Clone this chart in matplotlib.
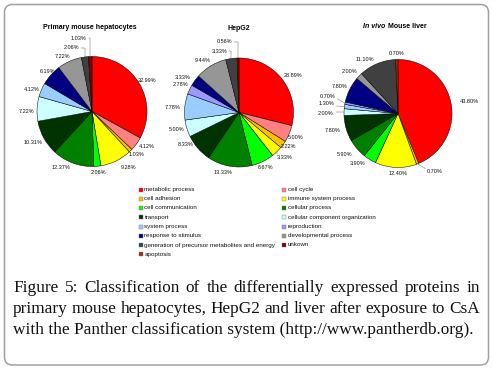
import matplotlib
matplotlib.use("Agg")
import matplotlib.pyplot as plt
import numpy as np
from matplotlib.patches import FancyBboxPatch, Rectangle

# ---------------- data ----------------
categories = ["metabolic process", "cell cycle", "cell adhesion", "immune system process",
              "cell communication", "cellular process", "transport",
              "cellular component organization", "system process", "reproduction",
              "response to stimulus", "developmental process",
              "generation of precursor metabolites and energy", "unkown", "apoptosis"]

hepatocytes = [32.99, 4.12, 1.03, 9.28, 2.06, 12.37, 10.31, 7.22, 4.12, 0, 6.19, 7.22, 2.06, 1.03, 0]
hepg2 = [28.89, 5.00, 2.22, 3.33, 6.67, 13.33, 8.33, 5.00, 7.78, 2.78, 3.33, 9.44, 3.33, 0.56, 0]
liver = [43.80, 0, 0.70, 12.40, 3.90, 5.90, 7.80, 2.00, 1.30, 0.70, 7.80, 2.00, 11.10, 0, 0.70]

caption_lines = ["Figure 5: Classification of the differentially expressed proteins in",
                 "primary mouse hepatocytes, HepG2 and liver after exposure to CsA",
                 "with the Panther classification system (http://www.pantherdb.org)."]

# ---------------- styles ----------------
colors = ["#FF0000", "#FF8080", "#FFC000", "#FFFF00", "#00FF00", "#008000", "#003300",
          "#CCFFFF", "#99CCFF", "#9999FF", "#000080", "#969696", "#404040", "#800000", "#993300"]

W, H, DPI = 493, 369, 100
fig = plt.figure(figsize=(W / DPI, H / DPI), dpi=DPI)
fig.patch.set_facecolor("white")

SANS = ["Liberation Sans", "DejaVu Sans"]
SERIF = ["Liberation Serif", "DejaVu Serif"]

# layout: pie centre (px), radius (px), label positions in units of radius, leader lines
layouts = [
    dict(cx=92, cy=111.5, r=55,
         labels=[(1.00, 0.555), (1.00, -0.645), (0.818, -0.773), (0.673, -1.027), (0.127, -1.118),
                 (-0.564, -1.027), (-1.073, -0.555), (-1.182, 0.009), (-1.091, 0.409),
                 (-0.80, 0.736), (-0.527, 0.991), (-0.364, 1.155), (-0.236, 1.336)],
         leaders={1: "s", 2: "s", 11: "e", 12: "e"}),
    dict(cx=239, cy=112.5, r=54.5,
         labels=[(0.991, 0.688), (1.046, -0.450), (0.899, -0.633), (0.844, -0.817), (0.495, -1.018),
                 (-0.294, -1.110), (-0.972, -0.578), (-1.138, -0.321), (-1.211, 0.083),
                 (-1.064, 0.505), (-1.028, 0.651), (-0.661, 0.945), (-0.349, 1.128), (-0.257, 1.294)],
         leaders={2: "s", 3: "s", 12: "e", 13: "e"}),
    dict(cx=398, cy=113.5, r=54,
         labels=[(1.315, 0.213), (0.685, -1.074), (0.0, -1.102), (-0.741, -0.935), (-0.981, -0.75),
                 (-1.204, -0.324), (-1.333, 0.009), (-1.315, 0.194), (-1.296, 0.324),
                 (-1.074, 0.491), (-0.889, 0.787), (-0.611, 0.991), (-0.019, 1.12)],
         leaders={1: "s", 6: "s", 7: "s", 8: "s"}),
]

series = [hepatocytes, hepg2, liver]

for vals, lay in zip(series, layouts):
    cx, cy, r = lay["cx"], lay["cy"], lay["r"]
    s = 1.5 * r
    ax = fig.add_axes([(cx - s) / W, 1 - (cy + s) / H, 2 * s / W, 2 * s / H])
    idx = [i for i, v in enumerate(vals) if v > 0]
    v = [vals[i] for i in idx]
    c = [colors[i] for i in idx]
    wedges, _ = ax.pie(v, colors=c, startangle=90, counterclock=False, radius=1,
                       wedgeprops=dict(edgecolor="black", linewidth=0.35))
    ax.set_xlim(-1.5, 1.5)
    ax.set_ylim(-1.5, 1.5)
    ax.axis("off")
    hw, hh = 9.5 / r, 3.0 / r
    for k, (w, val) in enumerate(zip(wedges, v)):
        lx, ly = lay["labels"][k]
        ax.text(lx, ly, f"{val:.2f}%", ha="center", va="center", fontsize=4.0,
                family=SANS, color="#111111", clip_on=False)
        if k in lay["leaders"]:
            th = np.deg2rad((w.theta1 + w.theta2) / 2)
            wx, wy = np.cos(th), np.sin(th)
            if lay["leaders"][k] == "e":
                ex = lx + hw
                xs, ys = [ex, wx, wx], [ly, ly, wy]
            else:
                px = min(max(wx, lx - hw), lx + hw)
                py = min(max(wy, ly - hh), ly + hh)
                xs, ys = [px, wx], [py, wy]
            ax.plot(xs, ys, color="#555555", lw=0.3, clip_on=False)

def fx(x):
    return x / W

def fy(y):
    return 1 - y / H

# titles
fig.text(fx(89.5), fy(27.5), "Primary mouse hepatocytes", ha="center", va="center",
         fontsize=5, fontweight="bold", family=SANS)
fig.text(fx(239), fy(28), "HepG2", ha="center", va="center",
         fontsize=5, fontweight="bold", family=SANS)
fig.text(fx(385), fy(27), "In vivo", ha="right", va="center",
         fontsize=5, fontweight="bold", style="italic", family=SANS)
fig.text(fx(388), fy(27), "Mouse liver", ha="left", va="center",
         fontsize=5, fontweight="bold", family=SANS)

# legend (two columns, row-major)
for i, (cat, col) in enumerate(zip(categories, colors)):
    row, colno = divmod(i, 2)
    x0 = 139 if colno == 0 else 282
    y0 = 189.5 + row * 9.25
    fig.patches.append(Rectangle((x0, H - y0 - 2), 4, 4, transform=None,
                                 facecolor=col, edgecolor="#777777", linewidth=0.3))
    fig.text(fx(x0 + 5.5), fy(y0), cat, ha="left", va="center", fontsize=4.5,
             family=SANS, color="#111111")

# caption, justified
renderer = fig.canvas.get_renderer()
probe = fig.text(0, 0, caption_lines[2], fontsize=10, family=SERIF)
natural = probe.get_window_extent(renderer).width
probe.remove()
cap_size = 10 * 460.0 / natural

left, right = 13.0, 480.0
baselines = [291.7, 313.0, 334.2]
for li, (line, base) in enumerate(zip(caption_lines, baselines)):
    if li < 2:
        words = line.split(" ")
        texts = [fig.text(0, fy(base), wd, fontsize=cap_size, family=SERIF,
                          va="baseline", ha="left", color="#111111") for wd in words]
        widths = [t.get_window_extent(renderer).width for t in texts]
        gap = (right - left - sum(widths)) / (len(words) - 1)
        x = left
        for t, wdt in zip(texts, widths):
            t.set_x(fx(x))
            x += wdt + gap
    else:
        fig.text(fx(left), fy(base), line, fontsize=cap_size, family=SERIF,
                 va="baseline", ha="left", color="#111111")

# rounded border
fig.patches.append(FancyBboxPatch((4.5, H - 365.0), 484.0, 360.5, transform=None,
                                  boxstyle="round,pad=0,rounding_size=8",
                                  facecolor="none", edgecolor="#A0A0A0", linewidth=1.1))

fig.savefig("out.png", dpi=DPI, facecolor="white")
